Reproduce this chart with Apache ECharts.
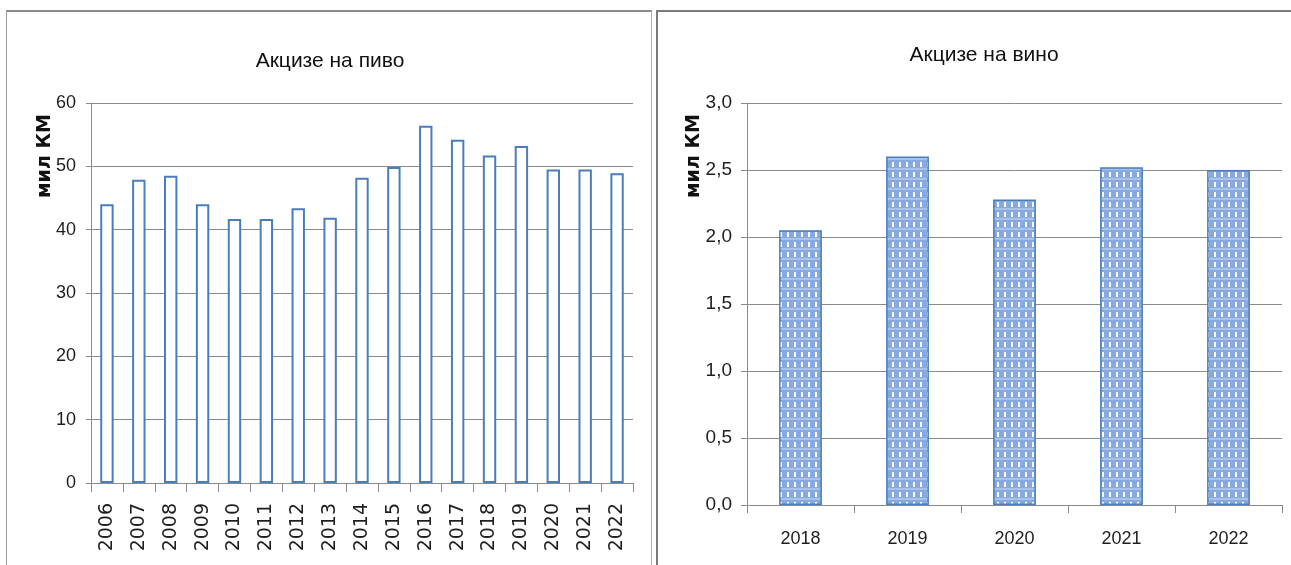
<!DOCTYPE html>
<html>
<head>
<meta charset="utf-8">
<script src="https://cdn.jsdelivr.net/npm/echarts@6/dist/echarts.min.js"></script>
<style>
html,body{margin:0;padding:0;background:#fff;overflow:hidden;}
#wrap{position:relative;width:1291px;height:565px;}
#p1{position:absolute;left:6px;top:10px;width:644px;height:600px;border-top:2px solid #8a8a8a;border-left:1px solid #9a9a9a;border-right:1px solid #b0b0b0;}
#p2{position:absolute;left:656px;top:10px;width:700px;height:600px;border-top:2px solid #7a7a7a;border-left:2px solid #7a7a7a;}
#chart{position:absolute;left:0;top:0;width:1291px;height:565px;}
</style>
</head>
<body>
<div id="wrap">
<div id="p1"></div>
<div id="p2"></div>
<div id="chart"></div>
</div>
<script>
const beerYears = ['2006','2007','2008','2009','2010','2011','2012','2013','2014','2015','2016','2017','2018','2019','2020','2021','2022'];
const beerValues = [44.0, 47.9, 48.5, 44.0, 41.7, 41.7, 43.4, 41.9, 48.2, 49.9, 56.4, 54.2, 51.7, 53.2, 49.5, 49.5, 48.9];
const wineYears = ['2018','2019','2020','2021','2022'];
const wineValues = [2.05, 2.6, 2.28, 2.52, 2.5];
const titles = ['Акцизе на пиво', 'Акцизе на вино'];
const unitName = 'мил КМ';

// pattern fill for wine bars
const pc = document.createElement('canvas');
pc.width = 7; pc.height = 10;
const g = pc.getContext('2d');
g.fillStyle = '#86a9df'; g.fillRect(0,0,7,10);
g.fillStyle = '#a9c2ea'; g.fillRect(0,8,7,2);
g.fillStyle = '#ffffff'; g.fillRect(3,2,2,5);

const sans = '"Liberation Sans", Arial, sans-serif';
const gridColor = '#8a8a8a';
const txt = '#1e1e1e';

const chart = echarts.init(document.getElementById('chart'), null, {renderer:'canvas'});
chart.setOption({
  animation: false,
  backgroundColor: 'transparent',
  title: [
    {text: titles[0], left: 325, top: 46, textAlign: 'center',
     textStyle: {fontFamily: sans, fontSize: 21, fontWeight: 'normal', color: '#111'}},
    {text: titles[1], left: 979, top: 40, textAlign: 'center',
     textStyle: {fontFamily: sans, fontSize: 21, fontWeight: 'normal', color: '#111'}}
  ],
  graphic: [
    {type:'text', x: 45, y: 156, rotation: Math.PI/2,
     style:{text: unitName, font: 'bold 19px "DejaVu Sans"', fill: '#111', align:'center', verticalAlign:'middle'}},
    {type:'text', x: 694, y: 156, rotation: Math.PI/2,
     style:{text: unitName, font: 'bold 19px "DejaVu Sans"', fill: '#111', align:'center', verticalAlign:'middle'}}
  ],
  grid: [
    {left: 91, top: 103, width: 542, height: 380},
    {left: 747, top: 103, width: 535, height: 402}
  ],
  xAxis: [
    {type:'category', gridIndex:0, data: beerYears,
     axisLine:{show:true, lineStyle:{color:gridColor, width:1}},
     axisTick:{show:true, length:9, lineStyle:{color:gridColor}},
     axisLabel:{rotate:90, margin:20, fontFamily:'"DejaVu Sans"', fontSize:19, color:txt}},
    {type:'category', gridIndex:1, data: wineYears,
     axisLine:{show:true, lineStyle:{color:gridColor, width:1}},
     axisTick:{show:true, length:8, lineStyle:{color:gridColor}},
     axisLabel:{margin:25, fontFamily:sans, fontSize:18, color:txt}}
  ],
  yAxis: [
    {type:'value', gridIndex:0, min:0, max:60, interval:10,
     axisLine:{show:true, lineStyle:{color:gridColor}},
     axisTick:{show:true, length:5, lineStyle:{color:gridColor}},
     splitLine:{show:true, lineStyle:{color:gridColor, width:1}},
     axisLabel:{margin:15, fontFamily:sans, fontSize:18, color:txt}},
    {type:'value', gridIndex:1, min:0, max:3, interval:0.5,
     axisLine:{show:true, lineStyle:{color:gridColor}},
     axisTick:{show:true, length:6, lineStyle:{color:gridColor}},
     splitLine:{show:true, lineStyle:{color:gridColor, width:1}},
     axisLabel:{margin:15, fontFamily:sans, fontSize:19, color:txt,
       formatter: v => v.toFixed(1).replace('.', ',')}}
  ],
  series: [
    {type:'bar', xAxisIndex:0, yAxisIndex:0, data: beerValues, barWidth:'42%',
     itemStyle:{color:'#ffffff', borderColor:'#4a7ebb', borderWidth:2}},
    {type:'bar', xAxisIndex:1, yAxisIndex:1, data: wineValues, barWidth:'40%',
     itemStyle:{color:{image: pc, repeat:'repeat'}, borderColor:'#4a7ebb', borderWidth:1.5}}
  ]
});
</script>
</body>
</html>
